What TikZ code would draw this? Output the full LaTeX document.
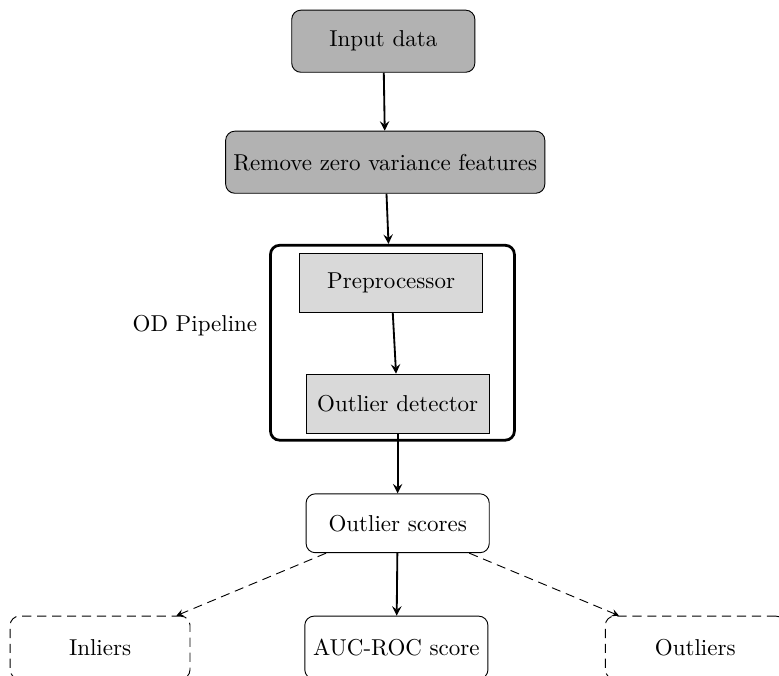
\documentclass[tikz,border=0pt]{standalone}
\usepackage{tikz}

\begin{document}
\begin{tikzpicture}[>=stealth,
	darkbox/.style={draw, rounded corners, fill=gray!60, minimum width=2.8cm, minimum height=0.95cm},
	lightbox/.style={draw, fill=gray!30, minimum width=2.8cm, minimum height=0.9cm},
	whitebox/.style={draw, rounded corners, minimum width=2.8cm, minimum height=0.9cm},
	dashbox/.style={draw, rounded corners, dash pattern=on 4pt off 2.5pt, minimum width=2.75cm, minimum height=0.96cm},
	flow/.style={->, thick},
	dashflow/.style={->, dash pattern=on 4pt off 2.5pt}]
	\clip (0,0) rectangle (11.91,-10.32);
	\node[darkbox] (input) at (5.86,-0.63) {Input data};
	\node[darkbox] (remove) at (5.89,-2.48) {Remove zero variance features};
	\node[draw, very thick, rounded corners, minimum width=3.73cm, minimum height=2.98cm] (pipeline) at (6.0,-5.24) {};
	\node (pipelabel) at (2.98,-4.98) {OD Pipeline};
	\node[lightbox] (prep) at (5.98,-4.32) {Preprocessor};
	\node[lightbox] (detector) at (6.08,-6.17) {Outlier detector};
	\node[whitebox] (scores) at (6.08,-8.0) {Outlier scores};
	\node[dashbox] (inliers) at (1.53,-9.9) {Inliers};
	\node[whitebox, minimum height=0.96cm] (auc) at (6.06,-9.9) {AUC-ROC score};
	\node[dashbox] (outliers) at (10.63,-9.9) {Outliers};
	
	\draw[flow] (input) -- (remove);
	\draw[flow] (remove) -- (pipeline);
	\draw[flow] (prep) -- (detector);
	\draw[flow] (detector) -- (scores);
	\draw[flow] (scores) -- (auc);
	\draw[dashflow] (scores) -- (inliers);
	\draw[dashflow] (scores) -- (outliers);
\end{tikzpicture}
\end{document}
